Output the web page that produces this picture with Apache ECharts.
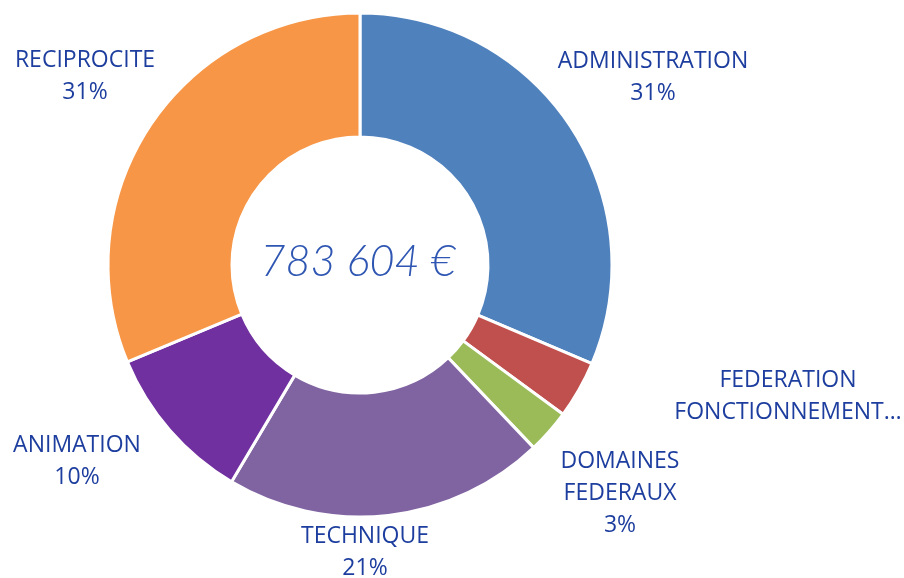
<!DOCTYPE html>
<html>
<head>
<meta charset="utf-8">
<script src="https://cdn.jsdelivr.net/npm/echarts@6/dist/echarts.min.js"></script>
<style>
  html, body { margin: 0; padding: 0; background: #fff; }
  #chart { width: 904px; height: 578px; }
</style>
</head>
<body>
<div id="chart"></div>
<script>
// budget split, amounts in euros
var categories = [
	'ADMINISTRATION',
	'FEDERATION\nFONCTIONNEMENT…',
	'DOMAINES\nFEDERAUX',
	'TECHNIQUE',
	'ANIMATION',
	'RECIPROCITE'
];
var amounts = [246000, 29000, 22000, 161500, 80000, 245104];
var showPercent = [true, false, true, true, true, true];
var totalLabel = '783 604 €';

var colors = ['#4F81BD', '#C0504D', '#9BBB59', '#8064A2', '#7030A0', '#F79646'];
// where Excel put each data label (centre of the text block)
var labelSpots = [[653, 77], [788, 396], [620, 493], [365, 552], [77, 461], [85, 76]];

var chart = echarts.init(document.getElementById('chart'));
var pieData = categories.map(function(name, i) {
	return { name: name, value: amounts[i], itemStyle: { color: colors[i] } };
});

chart.setOption({
	animation: false,
	graphic: [
		{
			type: 'text',
			z: 100,
			x: 358,
			y: 262,
			scaleX: 0.98,
			style: {
				text: totalLabel,
				x: 0,
				y: 0,
				align: 'center',
				verticalAlign: 'middle',
				fill: '#2E56B2',
				font: 'italic 300 44px Lato, "DejaVu Sans", sans-serif'
			}
		}
	],
	series: [
		{
			type: 'pie',
			center: [360, 265],
			radius: [128, 252],
			startAngle: 90,
			clockwise: true,
			avoidLabelOverlap: false,
			itemStyle: {
				borderColor: '#fff',
				borderWidth: 3
			},
			label: {
				show: true,
				position: 'outside',
				color: '#1D3E9E',
				fontFamily: 'Open Sans',
				fontSize: 23,
				lineHeight: 32,
				align: 'center',
				formatter: function(p) {
					if (!showPercent[p.dataIndex]) return p.name;
					return p.name + '\n' + Math.round(p.percent) + '%';
				}
			},
			labelLine: { show: false },
			labelLayout: function(p) {
				var s = labelSpots[p.dataIndex];
				return { x: s[0], y: s[1], align: 'center', verticalAlign: 'middle' };
			},
			data: pieData
		}
	]
});
</script>
</body>
</html>
